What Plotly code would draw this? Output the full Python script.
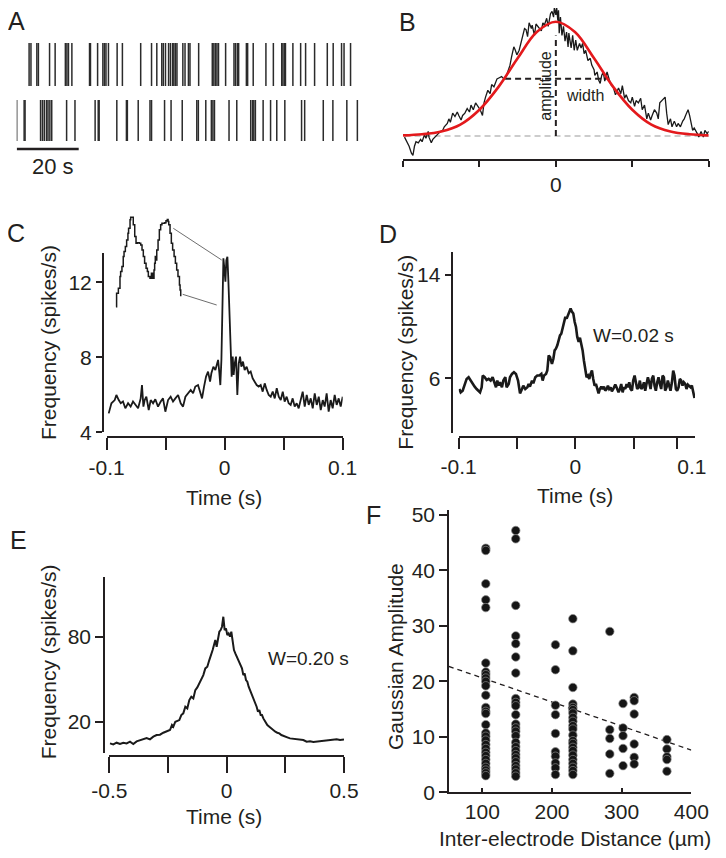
import plotly.graph_objects as go

# The page body keeps an 8 px margin, so the figure is sized to fit inside the 726x858 window.
OFF = 8
W, H = 726 - OFF, 858 - 2 * OFF
def fx(px): return (px - OFF) / W
def fy(py): return 1 - (py - OFF) / H

INK = "#231f20"
FONT = "Liberation Sans, Arial, Helvetica, sans-serif"

# ---------------- data ----------------
# A: spike rasters (seconds)
a_row1_spikes_s = [4.0, 4.6, 6.5, 7.0, 10.6, 12.4, 15.7, 16.2, 16.7, 17.8, 23.5, 23.8, 26.1, 27.8, 28.3, 28.8,
                   29.6, 32.4, 34.1, 40.0, 43.5, 45.2, 46.8, 47.3, 48.0, 49.0, 49.6, 50.3, 50.7, 51.2, 51.7,
                   53.6, 54.3, 55.4, 55.9, 58.7, 63.1, 63.6, 64.1, 64.6, 65.1, 67.4, 70.1, 70.6, 71.2, 71.6,
                   74.1, 74.5, 76.3, 80.4, 82.8, 85.5, 85.9, 86.4, 86.7, 89.1, 91.6, 93.2, 96.1, 100.2, 102.1,
                   104.8, 105.6, 107.7]
a_row2_spikes_s = [0.0, 2.4, 2.7, 7.7, 8.3, 8.9, 9.6, 10.1, 10.7, 11.3, 16.1, 18.8, 25.3, 26.3, 26.6, 32.3,
                   35.4, 35.7, 39.2, 43.0, 43.5, 47.7, 49.8, 53.4, 58.1, 58.6, 61.0, 62.8, 63.3, 63.8, 68.5,
                   71.0, 75.5, 76.1, 76.5, 77.0, 79.5, 81.9, 83.9, 86.5, 91.9, 92.9, 98.9, 102.0, 106.5, 109.9]
a_scalebar_s = 20

# B: example cross-correlogram (arbitrary lag units, % of fitted amplitude)
b_lag = [-198, -195, -192, -189, -187, -185, -183, -180, -177, -175,
         -172, -170, -167, -166, -163, -161, -158, -154, -151, -148,
         -146, -142, -140, -138, -135, -132, -129, -127, -124, -122,
         -119, -116, -113, -111, -108, -105, -102, -99, -96, -94,
         -92, -89, -86, -84, -81, -79, -77, -74, -71, -68,
         -65, -63, -60, -58, -55, -53, -51, -48, -45, -43,
         -41, -39, -37, -35, -32, -31, -28, -26, -24, -22,
         -19, -17, -15, -12, -10, -7, -5, -3, -2, 0,
         1, 2.6, 3.5, 4.4, 6, 8, 10, 12, 14, 16,
         17, 20, 22, 24, 26, 28, 31, 33, 35, 37,
         39, 42, 45, 47, 50, 51, 54, 56, 58, 60,
         62, 64, 67, 70, 72, 75, 78, 80, 82, 85,
         87, 90, 92, 95, 98, 100, 103, 105, 108, 111,
         113, 116, 119, 121, 124, 126, 129, 132, 134, 136,
         139, 141, 143, 145, 147, 150, 152, 155, 158, 160,
         163, 166, 168, 171, 173, 175, 177, 179, 181, 184,
         186, 187, 190, 193, 195, 198, 200]
b_rate = [-1, -5, -9, -15, -17, -9, -5, -6, -3, -5,
          1, -2, 4, -1, -6, -3, -1, 2, 4, 5,
          8, 11, 15, 12, 20, 17, 21, 18, 14, 18,
          20, 24, 21, 27, 23, 29, 26, 23, 18, 29,
          34, 40, 37, 45, 43, 47, 50, 51, 52, 50,
          52, 56, 62, 69, 78, 75, 71, 75, 84, 91,
          94, 93, 87, 99, 94, 97, 88, 98, 96, 94,
          92, 99, 97, 103, 96, 107, 109, 104, 112, 106,
          113, 101, 110, 90, 104, 88, 96, 83, 91, 78,
          90, 77, 88, 75, 84, 75, 81, 77, 81, 72,
          75, 66, 68, 62, 58, 53, 56, 49, 46, 53,
          56, 48, 56, 49, 45, 43, 36, 39, 42, 37,
          44, 33, 36, 31, 29, 34, 26, 31, 29, 33,
          23, 27, 15, 20, 14, 18, 23, 20, 15, 29,
          31, 33, 34, 20, 10, 15, 8, 13, 8, 11,
          8, 13, 15, 20, 23, 18, 11, 5, 7, 4,
          1, -1, 4, -1, 5, 2, 4]
b_fit_lag = [-200, -175, -150, -125, -100, -75, -50, -25, 0, 25, 50, 75, 100, 125, 150, 175, 200]
b_fit_rate = [0.5, 1.5, 4, 10, 23, 43, 68, 91, 100, 91, 68, 43, 23, 10, 4, 1.5, 0.5]
b_amplitude = 100
b_half_width = 66.4
b_ticks = [-200, -100, 0, 100, 200]

# C: cross-correlogram, short lags
c_time_s = [-0.0983, -0.0960, -0.0932, -0.0918, -0.0898, -0.0881, -0.0862, -0.0842, -0.0819, -0.0797,
            -0.0777, -0.0757, -0.0734, -0.0712, -0.0701, -0.0689, -0.0678, -0.0664, -0.0644, -0.0627,
            -0.0607, -0.0588, -0.0565, -0.0542, -0.0523, -0.0503, -0.0480, -0.0458, -0.0438, -0.0418,
            -0.0395, -0.0373, -0.0353, -0.0333, -0.0311, -0.0288, -0.0268, -0.0249, -0.0226, -0.0209,
            -0.0192, -0.0175, -0.0158, -0.0141, -0.0124, -0.0113, -0.0096, -0.0079, -0.0068, -0.0056,
            -0.0045, -0.0037, -0.0028, -0.0020, -0.0011, -0.0003, 0.0006, 0.0014, 0.0023, 0.0031,
            0.0040, 0.0051, 0.0059, 0.0068, 0.0076, 0.0085, 0.0096, 0.0107, 0.0119, 0.0130,
            0.0141, 0.0155, 0.0169, 0.0186, 0.0203, 0.0220, 0.0237, 0.0254, 0.0271, 0.0288,
            0.0305, 0.0322, 0.0339, 0.0356, 0.0373, 0.0390, 0.0407, 0.0424, 0.0441, 0.0458,
            0.0475, 0.0492, 0.0508, 0.0525, 0.0542, 0.0559, 0.0576, 0.0593, 0.0610, 0.0627,
            0.0644, 0.0661, 0.0678, 0.0695, 0.0712, 0.0729, 0.0746, 0.0763, 0.0780, 0.0797,
            0.0814, 0.0831, 0.0847, 0.0864, 0.0881, 0.0898, 0.0915, 0.0932, 0.0949, 0.0966,
            0.0983, 0.1000]
c_rate = [5.01, 5.55, 5.72, 5.99, 5.72, 5.55, 5.64, 5.28, 5.55, 5.37,
          5.64, 5.46, 5.28, 5.81, 6.52, 5.37, 5.72, 5.90, 5.19, 5.72,
          5.55, 5.76, 5.37, 5.64, 5.81, 5.10, 5.72, 5.90, 5.64, 5.81,
          5.99, 5.55, 5.37, 5.90, 6.08, 6.26, 6.08, 6.44, 6.52, 6.17,
          5.81, 6.44, 6.97, 7.24, 6.70, 7.15, 7.50, 7.32, 7.68, 7.86,
          7.15, 6.52, 7.86, 10.52, 13.28, 12.75, 12.04, 13.19, 13.37, 12.12,
          10.70, 8.04, 6.97, 8.04, 7.06, 7.68, 8.04, 5.99, 7.68, 8.04,
          7.50, 7.77, 7.32, 7.50, 7.15, 7.24, 6.88, 6.70, 6.52, 6.44,
          6.52, 6.17, 6.61, 6.26, 5.99, 5.90, 6.17, 5.81, 6.35, 5.90,
          5.72, 6.17, 5.64, 5.90, 5.55, 5.46, 5.81, 5.37, 5.55, 5.28,
          5.72, 6.17, 5.37, 5.99, 5.46, 5.81, 5.28, 6.08, 5.46, 5.90,
          5.19, 5.72, 5.37, 6.08, 5.10, 5.72, 5.28, 5.99, 5.46, 5.81,
          5.37, 5.90]
c_ticks = [-0.1, -0.05, 0, 0.05, 0.1]
c_tick_text = ["-0.1", "", "0", "", "0.1"]
c_yticks = [4, 8, 12]

# C inset: magnified central peak
c_inset_lag_ms = [-2.00, -1.96, -1.85, -1.75, -1.71, -1.63, -1.55, -1.50, -1.42, -1.34,
                  -1.26, -1.22, -1.13, -1.09, -0.97, -0.93, -0.84, -0.76, -0.68, -0.56,
                  -0.47, -0.39, -0.31, -0.23, -0.14, -0.06, 0.00, 0.10, 0.19, 0.27,
                  0.35, 0.39, 0.43, 0.47, 0.52, 0.60, 0.68, 0.76, 0.84, 0.93,
                  1.01, 1.09, 1.17, 1.22, 1.26, 1.34, 1.42, 1.50, 1.59, 1.67,
                  1.75, 1.83, 1.92, 1.96, 2.00]
c_inset_rate = [11.26, 11.58, 11.70, 11.98, 12.10, 12.22, 12.46, 12.58, 12.70, 12.86,
                13.02, 13.14, 13.34, 13.40, 13.40, 13.22, 12.94, 12.78, 12.79, 12.78,
                12.74, 12.62, 12.46, 12.30, 12.18, 12.10, 11.98, 11.94, 12.06, 11.94,
                12.14, 12.30, 12.46, 12.38, 12.62, 12.86, 13.10, 13.22, 13.26, 13.26,
                13.27, 13.32, 13.35, 13.30, 13.22, 13.02, 12.78, 12.62, 12.46, 12.30,
                12.14, 11.98, 11.78, 11.66, 11.51]

# D: W = 0.02 s
d_time_s = [-0.0995, -0.0983, -0.0966, -0.0949, -0.0932, -0.0915, -0.0897, -0.0880, -0.0863, -0.0846,
            -0.0829, -0.0817, -0.0803, -0.0794, -0.0777, -0.0760, -0.0743, -0.0726, -0.0709, -0.0692,
            -0.0680, -0.0669, -0.0657, -0.0646, -0.0629, -0.0617, -0.0600, -0.0589, -0.0571, -0.0560,
            -0.0543, -0.0526, -0.0509, -0.0491, -0.0474, -0.0457, -0.0446, -0.0429, -0.0411, -0.0400,
            -0.0389, -0.0371, -0.0360, -0.0343, -0.0326, -0.0308, -0.0291, -0.0280, -0.0268, -0.0251,
            -0.0240, -0.0228, -0.0217, -0.0200, -0.0188, -0.0177, -0.0166, -0.0154, -0.0143, -0.0131,
            -0.0120, -0.0108, -0.0097, -0.0085, -0.0074, -0.0063, -0.0051, -0.0040, -0.0028, -0.0017,
            -0.0005, 0.0006, 0.0017, 0.0029, 0.0040, 0.0052, 0.0063, 0.0074, 0.0086, 0.0097,
            0.0109, 0.0120, 0.0131, 0.0143, 0.0154, 0.0166, 0.0177, 0.0189, 0.0200, 0.0211,
            0.0223, 0.0234, 0.0246, 0.0257, 0.0269, 0.0280, 0.0291, 0.0303, 0.0314, 0.0326,
            0.0343, 0.0354, 0.0371, 0.0383, 0.0394, 0.0406, 0.0417, 0.0429, 0.0440, 0.0451,
            0.0463, 0.0474, 0.0486, 0.0497, 0.0509, 0.0520, 0.0531, 0.0543, 0.0554, 0.0566,
            0.0577, 0.0589, 0.0600, 0.0611, 0.0623, 0.0634, 0.0646, 0.0657, 0.0669, 0.0680,
            0.0691, 0.0703, 0.0714, 0.0726, 0.0737, 0.0749, 0.0760, 0.0771, 0.0783, 0.0794,
            0.0806, 0.0817, 0.0829, 0.0840, 0.0851, 0.0863, 0.0874, 0.0886, 0.0897, 0.0909,
            0.0920, 0.0931, 0.0943, 0.0954, 0.0966, 0.0977, 0.0989, 0.1000, 0.1011, 0.1023]
d_rate = [5.17, 4.91, 5.04, 5.56, 5.95, 6.08, 5.82, 5.51, 5.35, 5.17,
          5.04, 4.91, 5.30, 6.21, 6.08, 5.87, 5.95, 5.82, 6.08, 5.69,
          5.30, 5.82, 5.43, 5.69, 5.30, 5.82, 6.08, 5.30, 5.56, 6.08,
          6.34, 6.47, 6.34, 5.82, 4.83, 5.17, 5.43, 5.17, 5.30, 5.56,
          5.35, 5.82, 5.61, 6.08, 6.21, 6.21, 6.34, 5.82, 6.21, 6.34,
          6.60, 7.77, 7.64, 7.12, 7.51, 8.16, 8.29, 8.55, 9.06, 9.32,
          9.45, 9.97, 10.49, 10.75, 10.62, 10.88, 11.14, 11.40, 11.14, 11.01,
          10.36, 9.97, 9.19, 8.81, 9.14, 8.68, 8.16, 7.38, 6.60, 6.08,
          6.21, 5.95, 6.34, 6.60, 5.95, 5.43, 5.56, 5.04, 4.83, 5.17,
          5.35, 5.17, 5.35, 5.04, 5.17, 5.43, 5.17, 5.30, 4.99, 5.17,
          5.51, 5.30, 4.91, 5.17, 5.56, 4.91, 5.30, 5.17, 5.56, 5.30,
          5.69, 5.17, 5.04, 5.82, 6.21, 5.69, 5.17, 5.30, 5.82, 5.17,
          5.30, 5.69, 5.04, 5.56, 6.08, 5.69, 5.17, 5.95, 6.21, 5.43,
          5.04, 5.69, 6.08, 5.56, 5.17, 6.21, 6.08, 5.04, 5.30, 5.82,
          5.43, 5.04, 5.69, 6.60, 6.21, 5.17, 5.04, 5.30, 5.95, 5.82,
          5.43, 5.69, 5.56, 5.17, 5.51, 5.43, 5.30, 5.43, 4.91, 4.47]
d_label_ticks = [-0.1, 0, 0.1]
d_label_text = ["-0.1", "0", "0.1"]
d_mark_ticks = [-0.1, -0.05, 0, 0.05, 0.0875]
d_yticks = [6, 14]

# E: W = 0.20 s
e_time_s = [-0.4972, -0.4830, -0.4688, -0.4545, -0.4403, -0.4261, -0.4119, -0.3977, -0.3835, -0.3693,
            -0.3551, -0.3409, -0.3267, -0.3125, -0.2983, -0.2841, -0.2699, -0.2557, -0.2415, -0.2330,
            -0.2273, -0.2187, -0.2102, -0.2017, -0.1932, -0.1847, -0.1761, -0.1676, -0.1591, -0.1506,
            -0.1420, -0.1335, -0.1250, -0.1165, -0.1080, -0.0994, -0.0909, -0.0824, -0.0739, -0.0653,
            -0.0597, -0.0540, -0.0483, -0.0426, -0.0369, -0.0312, -0.0256, -0.0199, -0.0142, -0.0085,
            -0.0028, 0.0028, 0.0085, 0.0142, 0.0199, 0.0256, 0.0312, 0.0369, 0.0426, 0.0483,
            0.0540, 0.0597, 0.0653, 0.0710, 0.0767, 0.0824, 0.0881, 0.0938, 0.0994, 0.1051,
            0.1108, 0.1165, 0.1222, 0.1278, 0.1335, 0.1392, 0.1449, 0.1506, 0.1563, 0.1648,
            0.1733, 0.1818, 0.1903, 0.1989, 0.2074, 0.2159, 0.2244, 0.2330, 0.2415, 0.2500,
            0.2585, 0.2699, 0.2841, 0.2983, 0.3125, 0.3267, 0.3409, 0.3551, 0.3693, 0.3835,
            0.3977, 0.4119, 0.4261, 0.4403, 0.4545, 0.4688, 0.4830, 0.4972, 0.5000]
e_rate = [4.71, 4.00, 5.18, 4.24, 5.18, 4.71, 5.88, 4.24, 6.12, 7.06,
          7.53, 8.47, 7.53, 9.41, 10.59, 10.82, 12.24, 12.94, 14.12, 17.65,
          16.47, 20.00, 20.71, 21.18, 24.71, 25.88, 30.59, 29.41, 35.29, 37.65,
          36.47, 42.35, 44.24, 47.06, 49.41, 52.94, 57.65, 58.82, 63.53, 67.06,
          70.59, 74.12, 77.65, 72.94, 78.82, 83.53, 84.71, 87.06, 94.12, 84.71,
          85.88, 81.18, 82.35, 80.00, 83.53, 77.65, 70.59, 68.24, 65.88, 63.53,
          62.35, 60.00, 57.65, 52.94, 54.12, 49.41, 48.24, 44.71, 42.35, 41.18,
          37.65, 35.29, 34.12, 30.59, 27.06, 28.24, 24.71, 24.71, 22.35, 20.00,
          17.65, 16.47, 15.29, 13.65, 12.94, 12.24, 11.76, 10.59, 9.88, 9.41,
          8.94, 8.24, 8.00, 7.53, 7.06, 7.06, 5.88, 6.12, 5.65, 5.88,
          6.12, 6.35, 7.06, 6.82, 7.06, 7.53, 7.06, 7.06, 7.53]
e_ticks = [-0.5, -0.25, 0, 0.25, 0.5]
e_tick_text = ["-0.5", "", "0", "", "0.5"]
e_yticks = [20, 80]

# F: Gaussian amplitude vs inter-electrode distance
f_distance_um = [105, 148, 205, 230, 283, 302, 318, 365]
f_amplitude = [
    [44.0, 43.6, 37.6, 34.7, 33.3, 23.3, 21.7, 21.2, 20.6, 20.0, 19.2, 17.5, 15.3, 14.6, 14.2, 12.2,
     10.7, 10.1, 9.4, 8.6, 7.9, 7.2, 6.6, 5.9, 5.2, 4.5, 4.0, 3.5, 3.0],
    [47.2, 45.7, 33.7, 28.2, 26.8, 24.4, 21.5, 16.9, 16.2, 15.6, 14.0, 12.3, 11.6, 11.0, 10.2, 9.0,
     8.2, 7.5, 6.8, 6.2, 5.5, 4.8, 4.2, 3.5, 2.9],
    [26.6, 22.1, 15.7, 14.0, 10.6, 7.3, 6.5, 5.3, 4.4, 3.2],
    [31.3, 25.5, 18.9, 15.9, 15.3, 14.9, 14.3, 13.5, 12.8, 12.0, 11.4, 10.3, 9.3, 8.8, 8.1, 7.5,
     6.7, 5.9, 5.2, 4.5, 3.9, 3.2],
    [29.0, 11.3, 9.7, 6.9, 3.4],
    [16.0, 11.6, 10.2, 7.9, 4.8],
    [17.1, 16.5, 14.1, 8.7, 6.3, 5.1],
    [9.5, 7.8, 6.4, 5.9, 3.8],
]
f_fit_x = [52, 400]
f_fit_y = [22.7, 7.6]
f_xticks = [100, 200, 300, 400]
f_yticks = [0, 10, 20, 30, 40, 50]

# ---------------- figure ----------------
fig = go.Figure()

# A rasters
row1_band = (66, 109)
row2_band = (11, 52)
ax, ay = [], []
for t in a_row1_spikes_s:
    ax += [t, t, None]; ay += [row1_band[0], row1_band[1], None]
for t in a_row2_spikes_s:
    ax += [t, t, None]; ay += [row2_band[0], row2_band[1], None]
fig.add_trace(go.Scatter(x=ax, y=ay, mode="lines", line=dict(color="#2b2b2b", width=1.5),
                         xaxis="x", yaxis="y", hoverinfo="skip"))
fig.add_trace(go.Scatter(x=[0, a_scalebar_s], y=[3, 3], mode="lines",
                         line=dict(color=INK, width=2.5), xaxis="x", yaxis="y"))

# B
fig.add_trace(go.Scatter(x=[b_lag[0], b_lag[-1] + 1], y=[0, 0], mode="lines",
                         line=dict(color="#9a9a9a", width=1.2, dash="6px,4px"), xaxis="x2", yaxis="y2"))
fig.add_trace(go.Scatter(x=b_lag, y=b_rate, mode="lines", line=dict(color="#1a1a1a", width=1.3),
                         xaxis="x2", yaxis="y2"))
fig.add_trace(go.Scatter(x=[-b_half_width, b_half_width], y=[b_amplitude / 2] * 2, mode="lines",
                         line=dict(color=INK, width=2, dash="6px,4px"), xaxis="x2", yaxis="y2"))
fig.add_trace(go.Scatter(x=[0, 0], y=[0, b_amplitude * 0.88], mode="lines",
                         line=dict(color=INK, width=2, dash="6px,4px"), xaxis="x2", yaxis="y2"))
fig.add_trace(go.Scatter(x=b_fit_lag, y=b_fit_rate, mode="lines",
                         line=dict(color="#e3191c", width=2.6, shape="spline", smoothing=1.0),
                         xaxis="x2", yaxis="y2"))

# C
fig.add_trace(go.Scatter(x=c_time_s, y=c_rate, mode="lines", line=dict(color="#1a1a1a", width=1.8),
                         xaxis="x3", yaxis="y3"))
fig.add_trace(go.Scatter(x=c_inset_lag_ms, y=c_inset_rate, mode="lines",
                         line=dict(color="#1a1a1a", width=1.5, shape="hv"), xaxis="x4", yaxis="y4"))

# D
fig.add_trace(go.Scatter(x=d_time_s, y=d_rate, mode="lines", line=dict(color="#1a1a1a", width=2.6),
                         xaxis="x5", yaxis="y5"))

# E
fig.add_trace(go.Scatter(x=e_time_s, y=e_rate, mode="lines", line=dict(color="#1a1a1a", width=2.0),
                         xaxis="x6", yaxis="y6"))

# F
fxs, fys = [], []
for d, amps in zip(f_distance_um, f_amplitude):
    fxs += [d] * len(amps); fys += amps
fig.add_trace(go.Scatter(x=f_fit_x, y=f_fit_y, mode="lines",
                         line=dict(color=INK, width=1.3, dash="5px,4px"), xaxis="x7", yaxis="y7"))
fig.add_trace(go.Scatter(x=fxs, y=fys, mode="markers",
                         marker=dict(size=8.5, color="#151515", line=dict(color="#8a8a8a", width=0.7)),
                         xaxis="x7", yaxis="y7"))

axis_common = dict(showline=True, linecolor=INK, linewidth=1.5, ticks="outside", tickcolor=INK,
                   tickwidth=1.5, showgrid=False, zeroline=False, automargin=False,
                   tickfont=dict(size=21, color=INK, family=FONT))

layout = dict(
    width=W, height=H, autosize=False,
    margin=dict(l=0, r=0, t=0, b=0, pad=0, autoexpand=False), showlegend=False,
    paper_bgcolor="white", plot_bgcolor="rgba(0,0,0,0)",
    font=dict(family=FONT, color=INK),
    # A
    xaxis=dict(domain=[fx(16.7), fx(360)], range=[0, 110.75], visible=False, anchor="y"),
    yaxis=dict(domain=[fy(152), fy(40)], range=[0, 112], visible=False, anchor="x"),
    # B
    xaxis2=dict(axis_common, domain=[fx(403), fx(708.7)], range=[-200, 200], anchor="y2",
                tickmode="array", tickvals=b_ticks, ticktext=["", "", "0", "", ""], ticklen=6),
    yaxis2=dict(domain=[fy(159.3), fy(8)], range=[-20.4, 112], visible=False, anchor="x2"),
    # C
    xaxis3=dict(axis_common, domain=[fx(106.7), fx(342.7)], range=[-0.1, 0.1], anchor="free",
                position=fy(437.3), tickmode="array", tickvals=c_ticks, ticktext=c_tick_text, ticklen=12),
    yaxis3=dict(axis_common, domain=[fy(432.3), fy(253.3)], range=[4, 13.55], anchor="free",
                position=fx(102.7), tickmode="array", tickvals=c_yticks, ticklen=6),
    xaxis4=dict(domain=[fx(114), fx(183)], range=[-2.12, 2.14], visible=False, anchor="y4"),
    yaxis4=dict(domain=[fy(310), fy(214)], range=[11.18, 13.48], visible=False, anchor="x4"),
    # D
    xaxis5=dict(axis_common, domain=[fx(458.7), fx(695)], range=[-0.1, 0.1027], anchor="free",
                position=fy(437.3), tickmode="array", tickvals=d_label_ticks, ticktext=d_label_text,
                ticklen=11, tickcolor="rgba(0,0,0,0)",
                minor=dict(tickmode="array", tickvals=d_mark_ticks, ticklen=11, tickcolor=INK,
                           tickwidth=1.5, ticks="outside", showgrid=False)),
    yaxis5=dict(axis_common, domain=[fy(433.3), fy(251.7)], range=[1.74, 15.8], anchor="free",
                position=fx(452.3), tickmode="array", tickvals=d_yticks, ticklen=7),
    # E
    xaxis6=dict(axis_common, domain=[fx(109.3), fx(344)], range=[-0.5, 0.5], anchor="free",
                position=fy(756), tickmode="array", tickvals=e_ticks, ticktext=e_tick_text, ticklen=16),
    yaxis6=dict(axis_common, domain=[fy(753.3), fy(576.7)], range=[-2.3, 122.4], anchor="free",
                position=fx(104), tickmode="array", tickvals=e_yticks, ticklen=8),
    # F
    xaxis7=dict(axis_common, domain=[fx(449), fx(691.3)], range=[52.2, 400], anchor="y7",
                tickmode="array", tickvals=f_xticks, ticks="inside", ticklen=5),
    yaxis7=dict(axis_common, domain=[fy(792.3), fy(510)], range=[0, 50.9], anchor="x7",
                tickmode="array", tickvals=f_yticks, ticklen=8),
)
fig.update_layout(**layout)

def note(text, x, y, size=21, angle=0, color=INK):
    fig.add_annotation(text=text, x=fx(x), y=fy(y), xref="paper", yref="paper", showarrow=False,
                       xanchor="center", yanchor="middle", textangle=angle,
                       font=dict(size=size, color=color, family=FONT))

# panel letters
for lab, x, y in [("A", 16, 21), ("B", 407, 22), ("C", 16, 233), ("D", 388, 234), ("E", 18, 540), ("F", 373, 515)]:
    note(lab, x, y, size=25)

note("20 s", 53, 167, size=22)
note("amplitude", 545.7, 86, size=16, angle=-90)
note("width", 584.7, 95.7, size=16)
note("Frequency (spikes/s)", 48, 343, angle=-90)
note("Time (s)", 224, 497)
note("Frequency (spikes/s)", 404.7, 352, angle=-90)
note("Time (s)", 575, 495)
note("W=0.02 s", 633, 335, size=19)
note("Frequency (spikes/s)", 48.3, 662, angle=-90)
note("Time (s)", 224, 816)
note("W=0.20 s", 308.3, 658.3, size=19)
note("Gaussian Amplitude", 395, 657, angle=-90)
note("Inter-electrode Distance (µm)", 574.7, 838.5)

# inset connector lines
for (x0, y0, x1, y1) in [(173.3, 228.3, 221.7, 260), (182.7, 294.3, 216.7, 305)]:
    fig.add_shape(type="line", xref="paper", yref="paper", x0=fx(x0), y0=fy(y0), x1=fx(x1), y1=fy(y1),
                  line=dict(color="#6e6e6e", width=1))

fig.write_html("out.html", config={"responsive": False})
